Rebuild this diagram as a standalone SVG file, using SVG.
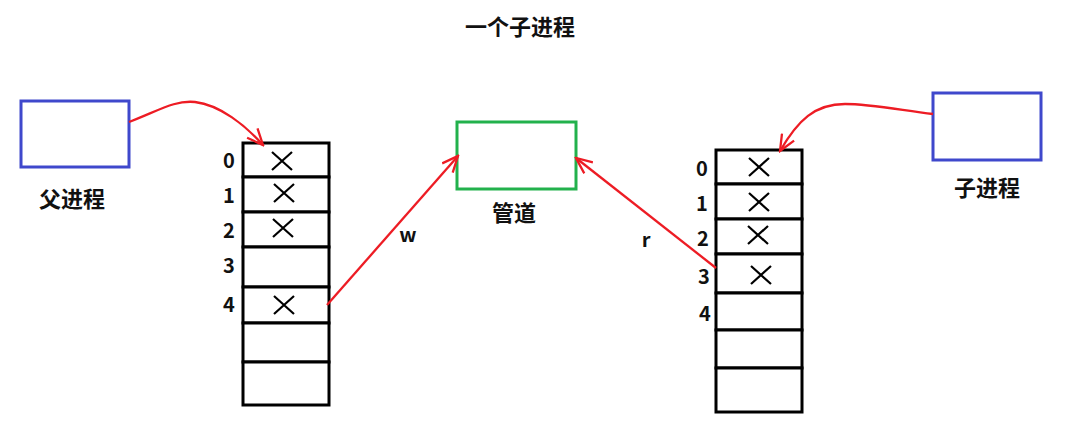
<svg xmlns="http://www.w3.org/2000/svg" width="1078" height="436" viewBox="0 0 1078 436">
<style>
.t{font-family:"Noto Sans CJK SC","Microsoft YaHei",sans-serif;font-weight:bold;fill:#111;}
.cell{fill:#fff;stroke:#000;stroke-width:3;}
.proc{fill:#fff;stroke:#3f48cc;stroke-width:3;}
.pipe{fill:#fff;stroke:#22b14c;stroke-width:3;}
.red{fill:none;stroke:#ed1c24;stroke-width:2.3;}
.x{fill:none;stroke:#000;stroke-width:2.2;}
</style>
<defs>
<marker id="ah" viewBox="0 0 20 16" refX="18" refY="8" markerWidth="20" markerHeight="16" markerUnits="userSpaceOnUse" orient="auto">
<path d="M2,1 L18,8 L2,15" fill="none" stroke="#ed1c24" stroke-width="2.3"/>
</marker>
<path id="xm" d="M-10,-9 L10,9 M-10,9 L10,-9"/>
</defs>
<text class="t" x="520" y="35" font-size="22" text-anchor="middle">一个子进程</text>
<g id="parent">
<rect class="proc" x="21" y="101" width="108" height="66"/>
<text class="t" x="72" y="207" font-size="22" text-anchor="middle">父进程</text>
</g>
<g id="child">
<rect class="proc" x="933" y="93" width="108" height="67"/>
<text class="t" x="987" y="196" font-size="22" text-anchor="middle">子进程</text>
</g>
<g id="pipe">
<rect class="pipe" x="457" y="122" width="119" height="67"/>
<text class="t" x="514" y="221" font-size="22" text-anchor="middle">管道</text>
</g>
<g id="parent-fd-table">
<rect class="cell" x="243" y="143" width="86" height="34"/>
<rect class="cell" x="243" y="177" width="86" height="35"/>
<rect class="cell" x="243" y="212" width="86" height="35"/>
<rect class="cell" x="243" y="247" width="86" height="40"/>
<rect class="cell" x="243" y="287" width="86" height="36"/>
<rect class="cell" x="243" y="323" width="86" height="39"/>
<rect class="cell" x="243" y="362" width="86" height="43"/>
<use href="#xm" class="x" x="282" y="161"/>
<use href="#xm" class="x" x="284" y="193"/>
<use href="#xm" class="x" x="283" y="228"/>
<use href="#xm" class="x" x="284" y="305"/>
<g class="t" font-size="20" text-anchor="middle">
<text x="229" y="168">0</text>
<text x="229" y="203">1</text>
<text x="229" y="238">2</text>
<text x="229" y="273">3</text>
<text x="229" y="312">4</text>
</g>
</g>
<g id="child-fd-table">
<rect class="cell" x="716" y="150" width="86" height="34"/>
<rect class="cell" x="716" y="184" width="86" height="35"/>
<rect class="cell" x="716" y="219" width="86" height="35"/>
<rect class="cell" x="716" y="254" width="86" height="39"/>
<rect class="cell" x="716" y="293" width="86" height="37"/>
<rect class="cell" x="716" y="330" width="86" height="38"/>
<rect class="cell" x="716" y="368" width="86" height="44"/>
<use href="#xm" class="x" x="759" y="167"/>
<use href="#xm" class="x" x="759" y="202"/>
<use href="#xm" class="x" x="758" y="235"/>
<use href="#xm" class="x" x="761" y="275"/>
<g class="t" font-size="20" text-anchor="middle">
<text x="702" y="176">0</text>
<text x="702" y="211">1</text>
<text x="703" y="246">2</text>
<text x="704" y="284">3</text>
<text x="705" y="321">4</text>
</g>
</g>
<g id="connectors">
<path class="red" d="M129,122 C160,110 175,100 195,102 C220,105 245,125 263,145" marker-end="url(#ah)"/>
<path class="red" d="M933,114 C900,110 870,104 845,104 C815,104 798,120 780,151" marker-end="url(#ah)"/>
<path class="red" d="M327,305 L458,156" marker-end="url(#ah)"/>
<path class="red" d="M716,268 L576,158" marker-end="url(#ah)"/>
<text class="t" x="408" y="242" font-size="20" text-anchor="middle">w</text>
<text class="t" x="646" y="247" font-size="20" text-anchor="middle">r</text>
</g>
</svg>
